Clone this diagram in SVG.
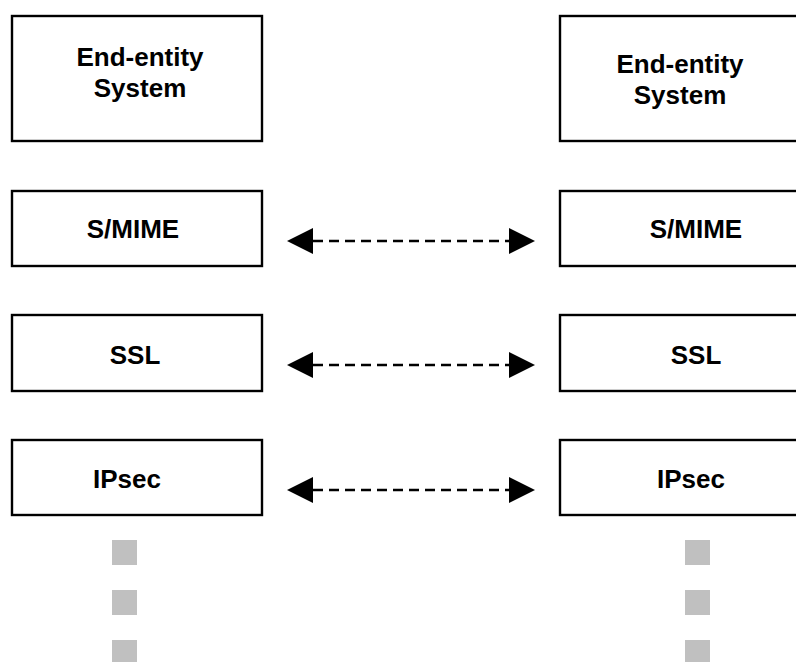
<svg xmlns="http://www.w3.org/2000/svg" width="796" height="662" viewBox="0 0 796 662">
<style>
.box{fill:#fff;stroke:#000;stroke-width:2.4}
.lbl{font-family:"Liberation Sans",Arial,sans-serif;font-weight:bold;font-size:26px;fill:#000;text-anchor:middle}
.conn{stroke:#000;stroke-width:2.6;stroke-dasharray:10,6;fill:none}
.dot{fill:#c0c0c0}
</style>
<defs>
<marker id="ah" viewBox="0 0 26 26" refX="0" refY="13" markerWidth="26" markerHeight="26" markerUnits="userSpaceOnUse" orient="auto-start-reverse">
<path d="M0,0 L26,13 L0,26 Z" fill="#000"/>
</marker>
</defs>
<rect width="796" height="662" fill="#fff"/>
<g id="left-end-entity"><rect class="box" x="12" y="16" width="250" height="125"/><text class="lbl" x="140" y="66">End-entity</text><text class="lbl" x="140" y="97">System</text></g>
<g id="right-end-entity"><rect class="box" x="560" y="16" width="260" height="125"/><text class="lbl" x="680" y="73">End-entity</text><text class="lbl" x="680" y="104">System</text></g>
<g id="left-smime"><rect class="box" x="12" y="191" width="250" height="75"/><text class="lbl" x="133" y="238">S/MIME</text></g>
<g id="right-smime"><rect class="box" x="560" y="191" width="260" height="75"/><text class="lbl" x="696" y="238">S/MIME</text></g>
<g id="left-ssl"><rect class="box" x="12" y="315" width="250" height="76"/><text class="lbl" x="135" y="364">SSL</text></g>
<g id="right-ssl"><rect class="box" x="560" y="315" width="260" height="76"/><text class="lbl" x="696" y="364">SSL</text></g>
<g id="left-ipsec"><rect class="box" x="12" y="440" width="250" height="75"/><text class="lbl" x="127" y="488">IPsec</text></g>
<g id="right-ipsec"><rect class="box" x="560" y="440" width="260" height="75"/><text class="lbl" x="691" y="488">IPsec</text></g>
<g id="left-dots"><rect class="dot" x="112" y="540" width="25" height="25"/><rect class="dot" x="112" y="590" width="25" height="25"/><rect class="dot" x="112" y="640" width="25" height="25"/></g>
<g id="right-dots"><rect class="dot" x="685" y="540" width="25" height="25"/><rect class="dot" x="685" y="590" width="25" height="25"/><rect class="dot" x="685" y="640" width="25" height="25"/></g>
<g id="connectors">
<line class="conn" x1="313" y1="241" x2="509" y2="241" marker-start="url(#ah)" marker-end="url(#ah)"/>
<line class="conn" x1="313" y1="365" x2="509" y2="365" marker-start="url(#ah)" marker-end="url(#ah)"/>
<line class="conn" x1="313" y1="490" x2="509" y2="490" marker-start="url(#ah)" marker-end="url(#ah)"/>
</g>
</svg>
